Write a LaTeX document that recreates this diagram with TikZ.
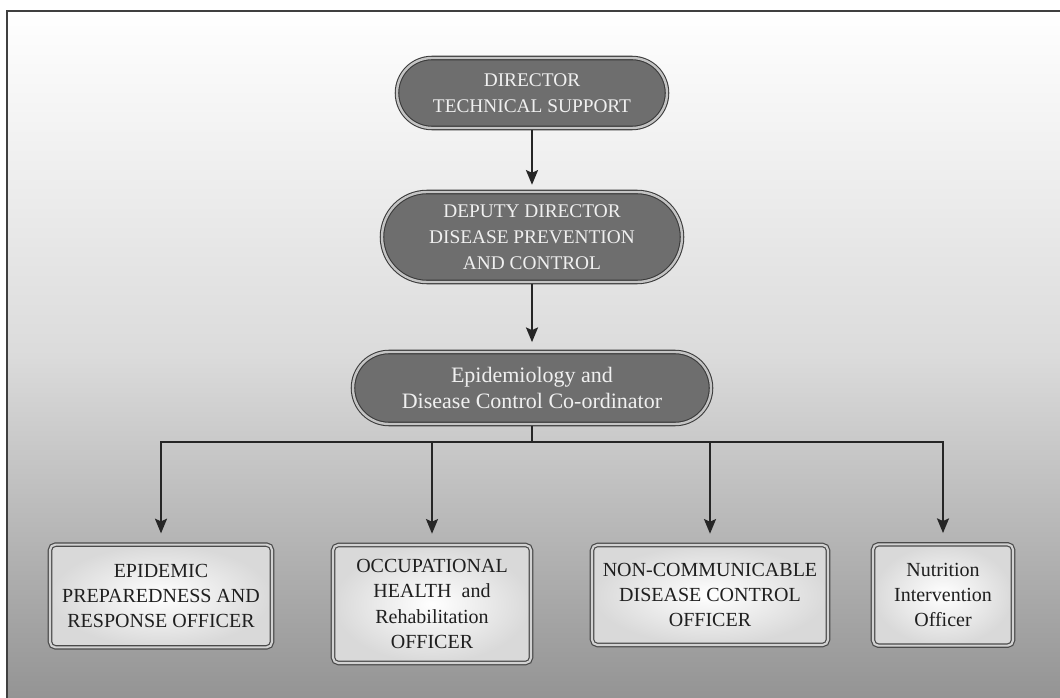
\documentclass[tikz,border=0pt]{standalone}
\usepackage{fontspec}
\setmainfont{Liberation Serif}
\usetikzlibrary{arrows.meta,shapes.misc}
\definecolor{pillfill}{HTML}{6E6E6E}
\definecolor{pillrim}{HTML}{C4C4C4}
\definecolor{edge}{HTML}{3A3A3A}
\definecolor{boxedge}{HTML}{4A4A4A}
\begin{document}
\begin{tikzpicture}[x=0.75pt,y=-0.75pt,
  pill/.style={rounded rectangle, fill=pillfill, draw=edge, line width=0.8pt,
    double=pillrim, double distance=1.8pt, text=white!94!black, align=center,
    inner sep=0pt, font=\fontsize{14.5}{19.5}\selectfont},
  officebox/.style={rectangle, rounded corners=4pt, draw=boxedge, line width=0.9pt,
    double=gray!35, double distance=1.6pt, shading=radial, inner color=white,
    outer color=gray!30, text=black!88, align=center, inner sep=0pt,
    font=\fontsize{15}{19}\selectfont},
  link/.style={line width=1.6pt, draw=black!85},
  arr/.style={link, -{Stealth[length=11pt,width=9pt,inset=2pt]}}]
  % page area and the shaded panel with its top and left rule
  \useasboundingbox (0,0) rectangle (1060,698);
  \fill[white] (0,0) rectangle (1060,698);
  \shade[top color=white, bottom color=black!42, middle color=black!14]
    (7,11) rectangle (1060,698);
  \draw[black!75, line width=0.8pt] (7,698) -- (7,11) -- (1060,11);

  % management chain
  \node[pill, minimum width=202.5pt, minimum height=52.5pt] (d1) at (532,93)
    {DIRECTOR\\TECHNICAL SUPPORT};
  \node[pill, minimum width=225pt, minimum height=67.5pt] (d2) at (532,237)
    {DEPUTY DIRECTOR\\DISEASE PREVENTION\\AND CONTROL};
  \node[pill, minimum width=268.5pt, minimum height=54pt,
    font=\fontsize{16.5}{20}\selectfont] (d3) at (532,388)
    {Epidemiology and\\Disease Control Co-ordinator};

  % officers
  \node[officebox, minimum width=166.5pt, minimum height=77pt] (b1) at (161,596)
    {EPIDEMIC\\PREPAREDNESS AND\\RESPONSE OFFICER};
  \node[officebox, minimum width=148.5pt, minimum height=88.5pt] (b2) at (432,604)
    {OCCUPATIONAL\\HEALTH\ \ and\\Rehabilitation\\OFFICER};
  \node[officebox, minimum width=177pt, minimum height=75pt] (b3) at (710,595)
    {NON-COMMUNICABLE\\DISEASE CONTROL\\OFFICER};
  \node[officebox, minimum width=105pt, minimum height=76pt] (b4) at (943,595)
    {Nutrition\\Intervention\\Officer};

  % connectors
  \draw[arr] ([yshift=-1pt]d1.south) -- ([yshift=5pt]d2.north);
  \draw[arr] ([yshift=-1pt]d2.south) -- ([yshift=7pt]d3.north);
  \draw[link] ([yshift=-1pt]d3.south) -- (d3.south |- 0,442) coordinate (j);
  \foreach \b in {b1,b2,b3,b4}
    \draw[arr] (j) -| ([yshift=8pt]\b.north);
\end{tikzpicture}
\end{document}
